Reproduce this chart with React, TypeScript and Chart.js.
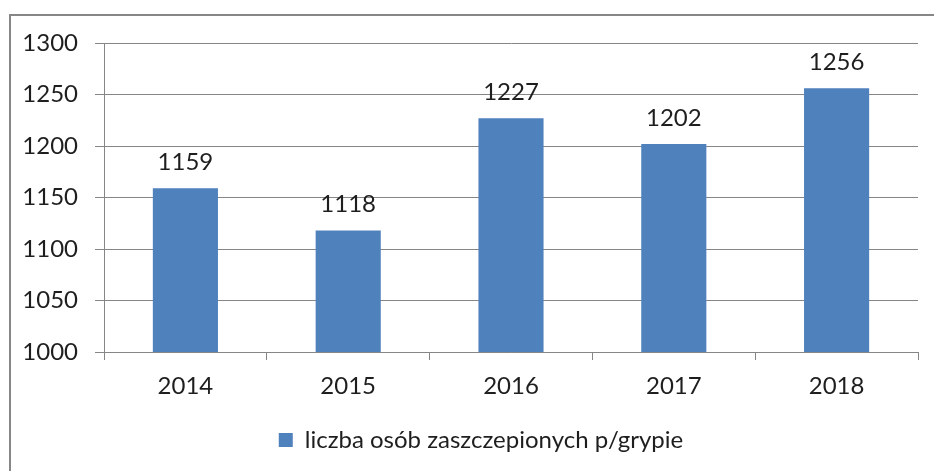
import React, { useEffect, useRef } from "react";
import { Chart, registerables } from "chart.js";

Chart.register(...registerables);

const categories = ["2014", "2015", "2016", "2017", "2018"];
const values = [1159, 1118, 1227, 1202, 1256];
const seriesName = "liczba osób zaszczepionych p/grypie";
const yMin = 1000;
const yMax = 1300;
const yStep = 50;

const FONT = "Lato";
const FS = 24;
const GRID = "#868686";
const TEXT = "#1e1e1e";
const BAR = "#4F81BD";

const dataLabels = {
  id: "dataLabels",
  afterDatasetsDraw(chart: any) {
    const ctx = chart.ctx;
    const meta = chart.getDatasetMeta(0);
    ctx.save();
    ctx.font = `${FS}px ${FONT}`;
    ctx.fillStyle = TEXT;
    ctx.textAlign = "center";
    ctx.textBaseline = "middle";
    meta.data.forEach((el: any, i: number) => {
      ctx.fillText(String(values[i]), el.x, el.y - 26);
    });
    ctx.restore();
  },
};

const legendShift = {
  id: "legendShift",
  afterLayout(chart: any) {
    const lg = chart.legend;
    if (lg) {
      lg.left += 44;
      lg.width = lg.right - lg.left;
    }
  },
};

export default function App() {
  const ref = useRef<HTMLCanvasElement>(null);
  useEffect(() => {
    if (!ref.current) return;
    const chart = new Chart(ref.current, {
      type: "bar",
      data: {
        labels: categories,
        datasets: [
          {
            label: seriesName,
            data: values,
            backgroundColor: BAR,
            borderWidth: 0,
            categoryPercentage: 1,
            barPercentage: 0.4,
          },
        ],
      },
      options: {
        animation: false,
        responsive: false,
        maintainAspectRatio: false,
        layout: { padding: { left: 0, right: 16, top: 43, bottom: 9 } },
        plugins: {
          tooltip: { enabled: false },
          legend: {
            position: "bottom",
            labels: {
              font: { family: FONT, size: FS },
              color: TEXT,
              boxWidth: 14,
              boxHeight: 14,
              padding: 10,
            },
          },
        },
        scales: {
          x: {
            offset: true,
            grid: {
              offset: true,
              drawOnChartArea: false,
              color: GRID,
              tickLength: 8,
              lineWidth: 1,
            },
            border: { color: GRID, width: 1 },
            ticks: {
              font: { family: FONT, size: FS },
              color: TEXT,
              padding: 12,
            },
            afterFit(s: any) {
              s.height = 66;
            },
          },
          y: {
            min: yMin,
            max: yMax,
            grid: { color: GRID, tickLength: 9, lineWidth: 1 },
            border: { color: GRID, width: 1 },
            ticks: {
              stepSize: yStep,
              font: { family: FONT, size: FS },
              color: TEXT,
              padding: 17,
              callback: (v: any) => String(v),
            },
            afterFit(s: any) {
              s.width = 104;
            },
          },
        },
      },
      plugins: [dataLabels, legendShift],
    });
    return () => chart.destroy();
  }, []);

  return (
    <div
      style={{
        position: "fixed",
        left: 0,
        top: 0,
        width: 934,
        height: 471,
        background: "#fff",
        overflow: "hidden",
      }}
    >
      <div
        style={{
          position: "absolute",
          left: 9,
          top: 14,
          width: 1000,
          height: 600,
          border: "2px solid #878787",
          boxSizing: "border-box",
        }}
      />
      <canvas
        ref={ref}
        width={934}
        height={471}
        style={{ position: "absolute", left: 0, top: 0, width: 934, height: 471 }}
      />
    </div>
  );
}
